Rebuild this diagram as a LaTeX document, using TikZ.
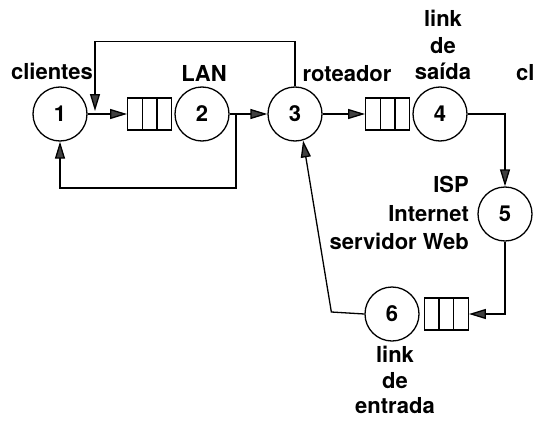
\documentclass[tikz,border=0pt]{standalone}
\usepackage{fontspec}
\setmainfont{TeX Gyre Heros}
\usetikzlibrary{arrows.meta,positioning,calc}

\tikzset{
  station/.style={draw, circle, minimum size=54pt, inner sep=0pt, line width=1.3pt},
  queue/.style={draw, rectangle, minimum width=44pt, minimum height=32pt, inner sep=0pt, line width=1.3pt,
    path picture={\foreach \f in {1,2} \draw[line width=1.3pt]
      ($(path picture bounding box.south west)!\f/3!(path picture bounding box.south east)$) --
      ($(path picture bounding box.north west)!\f/3!(path picture bounding box.north east)$);}},
  lbl/.style={font=\fontsize{22}{26.5}\selectfont\bfseries, inner sep=0pt, align=center},
  flow/.style={line width=1.3pt, -{Triangle[length=17pt,width=10pt,fill=black!75]}}
}

\begin{document}
\begin{tikzpicture}[x=1pt, y=-1pt]
\useasboundingbox (0,0) rectangle (534,420);
\node[station, lbl] (c1) at (60,114) {1};
\node[station, lbl] (c2) at (202,114) {2};
\node[station, lbl] (c3) at (295,114) {3};
\node[station, lbl] (c4) at (440,114) {4};
\node[station, lbl] (c5) at (505,214) {5};
\node[station, lbl] (c6) at (392,314) {6};
\node[queue, left=2pt of c2] (q2) {};
\node[queue, left=2pt of c4] (q4) {};
\node[queue, right=4pt of c6] (q6) {};
\node[lbl, anchor=base] (clientes) at (52,79) {clientes};
\node[lbl, anchor=base] (lan) at (204,81) {LAN};
\node[lbl, anchor=base] (roteador) at (347,81) {roteador};
\node[lbl, anchor=south] (saida) at (443,80) {link\\de\\saída};
\node[lbl, anchor=base west] (cl) at (516,80) {cl};
\node[lbl, anchor=south east, align=right, font=\fontsize{22}{28.5}\selectfont\bfseries] (isp) at (469,250) {ISP\\Internet\\servidor Web};
\node[lbl, anchor=north, font=\fontsize{22}{25.5}\selectfont\bfseries] (entrada) at (395,346) {link\\de\\entrada};
\coordinate (br) at (236,114);
\coordinate (lp) at (95,111);
\draw[flow] (c1) -- (q2);
\draw[flow] (c2) -- (c3);
\draw[flow] (c3) -- (q4);
\draw[flow] (br) -- ++(0,74) -| (c1.south);
\draw[flow] (c3.north) -- ++(0,-45) -| (lp);
\draw[flow] (c4.east) -| (c5.north);
\draw[flow] (c5.south) |- (q6.east);
\draw[flow] (c6.west) -- ++(-33,-2) -- (c3.-73);
\end{tikzpicture}
\end{document}
